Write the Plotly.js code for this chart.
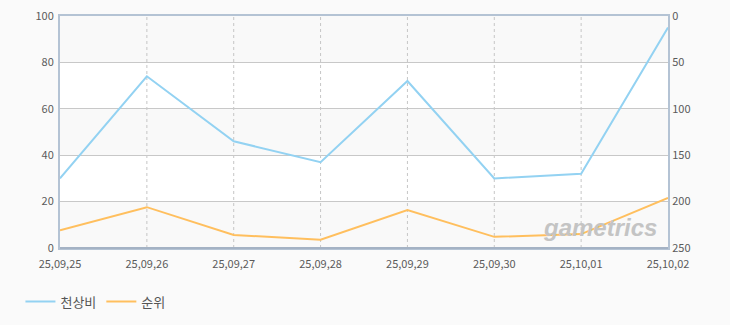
<!DOCTYPE html>
<html>
<head>
<meta charset="utf-8">
<script src="https://cdn.plot.ly/plotly-3.0.1.min.js"></script>
<style>
html,body{margin:0;padding:0;background:#fafafa;}
#chart{width:730px;height:325px;}
</style>
</head>
<body>
<div id="chart"></div>
<script>
const categories = ["25,09,25","25,09,26","25,09,27","25,09,28","25,09,29","25,09,30","25,10,01","25,10,02"];
const ratioValues = [30, 74, 46, 37, 72, 30, 32, 95];
const rankValues = [231, 206, 236, 241, 209, 238, 235, 196];
const leftTicks = [0, 20, 40, 60, 80, 100];
const rightTicks = [0, 50, 100, 150, 200, 250];
const seriesNames = ["천상비", "순위"];

const font = "'Noto Sans CJK KR', 'DejaVu Sans', sans-serif";
const tickFont = {family: font, size: 11, color: "#5a5a5a"};

const traces = [
  {x: categories, y: ratioValues, name: seriesNames[0], type: "scatter", mode: "lines",
   line: {color: "#93d2f2", width: 2}, yaxis: "y", hoverinfo: "x+y"},
  {x: categories, y: rankValues, name: seriesNames[1], type: "scatter", mode: "lines",
   line: {color: "#ffbf5e", width: 2}, yaxis: "y2", hoverinfo: "x+y"}
];

const shapes = [];
for (let i = 0; i < leftTicks.length - 1; i += 2) {
  shapes.push({type: "rect", xref: "paper", yref: "y", x0: 0, x1: 1,
    y0: leftTicks[i], y1: leftTicks[i + 1], fillcolor: "#f9f9f9", line: {width: 0}, layer: "below"});
}
for (let i = 1; i < leftTicks.length - 1; i += 2) {
  shapes.push({type: "rect", xref: "paper", yref: "y", x0: 0, x1: 1,
    y0: leftTicks[i], y1: leftTicks[i + 1], fillcolor: "#ffffff", line: {width: 0}, layer: "below"});
}
categories.forEach((c, i) => {
  if (i > 0 && i < categories.length - 1) {
    shapes.push({type: "line", xref: "x", yref: "paper", x0: i, x1: i, y0: 0, y1: 1,
      line: {color: "#c6c6c6", width: 1, dash: "3px,3px"}, layer: "below"});
  }
});
// bottom axis line
shapes.push({type: "line", xref: "paper", yref: "paper", x0: 0, x1: 1, y0: 0, y1: 0,
  line: {color: "#a4b2c4", width: 2}, layer: "above"});

const layout = {
  width: 730, height: 325,
  paper_bgcolor: "#fafafa", plot_bgcolor: "#ffffff",
  margin: {l: 60, r: 62, t: 16, b: 77},
  font: {family: font},
  showlegend: true,
  legend: {orientation: "h", xref: "container", yref: "container", x: 0.028, y: 0.072,
    xanchor: "left", yanchor: "middle", font: {family: font, size: 13, color: "#555"},
    itemwidth: 30, tracegroupgap: 0, bgcolor: "rgba(0,0,0,0)"},
  xaxis: {type: "category", range: [0, categories.length - 1], showgrid: false,
    tickfont: tickFont, ticks: "", ticklabelstandoff: 5, showline: true, linecolor: "#b4c3d4", linewidth: 2, mirror: true,
    zeroline: false, fixedrange: true},
  yaxis: {range: [0, 100], tickvals: leftTicks, tickfont: tickFont, ticks: "", ticklabelstandoff: 2,
    showgrid: true, gridcolor: "#c8c8c8", gridwidth: 1, zeroline: false,
    showline: true, linecolor: "#b4c3d4", linewidth: 2, fixedrange: true},
  yaxis2: {overlaying: "y", side: "right", range: [250, 0], tickvals: rightTicks,
    tickfont: tickFont, ticks: "", showgrid: false, zeroline: false,
    showline: true, linecolor: "#b4c3d4", linewidth: 2, fixedrange: true},
  shapes: shapes,
  annotations: [{text: "<b><i>gametrics</i></b>", xref: "paper", yref: "paper", x: 0.985, y: 0.09,
    xanchor: "right", yanchor: "middle", showarrow: false,
    font: {family: "'Liberation Sans', sans-serif", size: 24, color: "#c4c4c4"}}]
};

Plotly.newPlot("chart", traces, layout, {displayModeBar: false, staticPlot: true});
</script>
</body>
</html>
